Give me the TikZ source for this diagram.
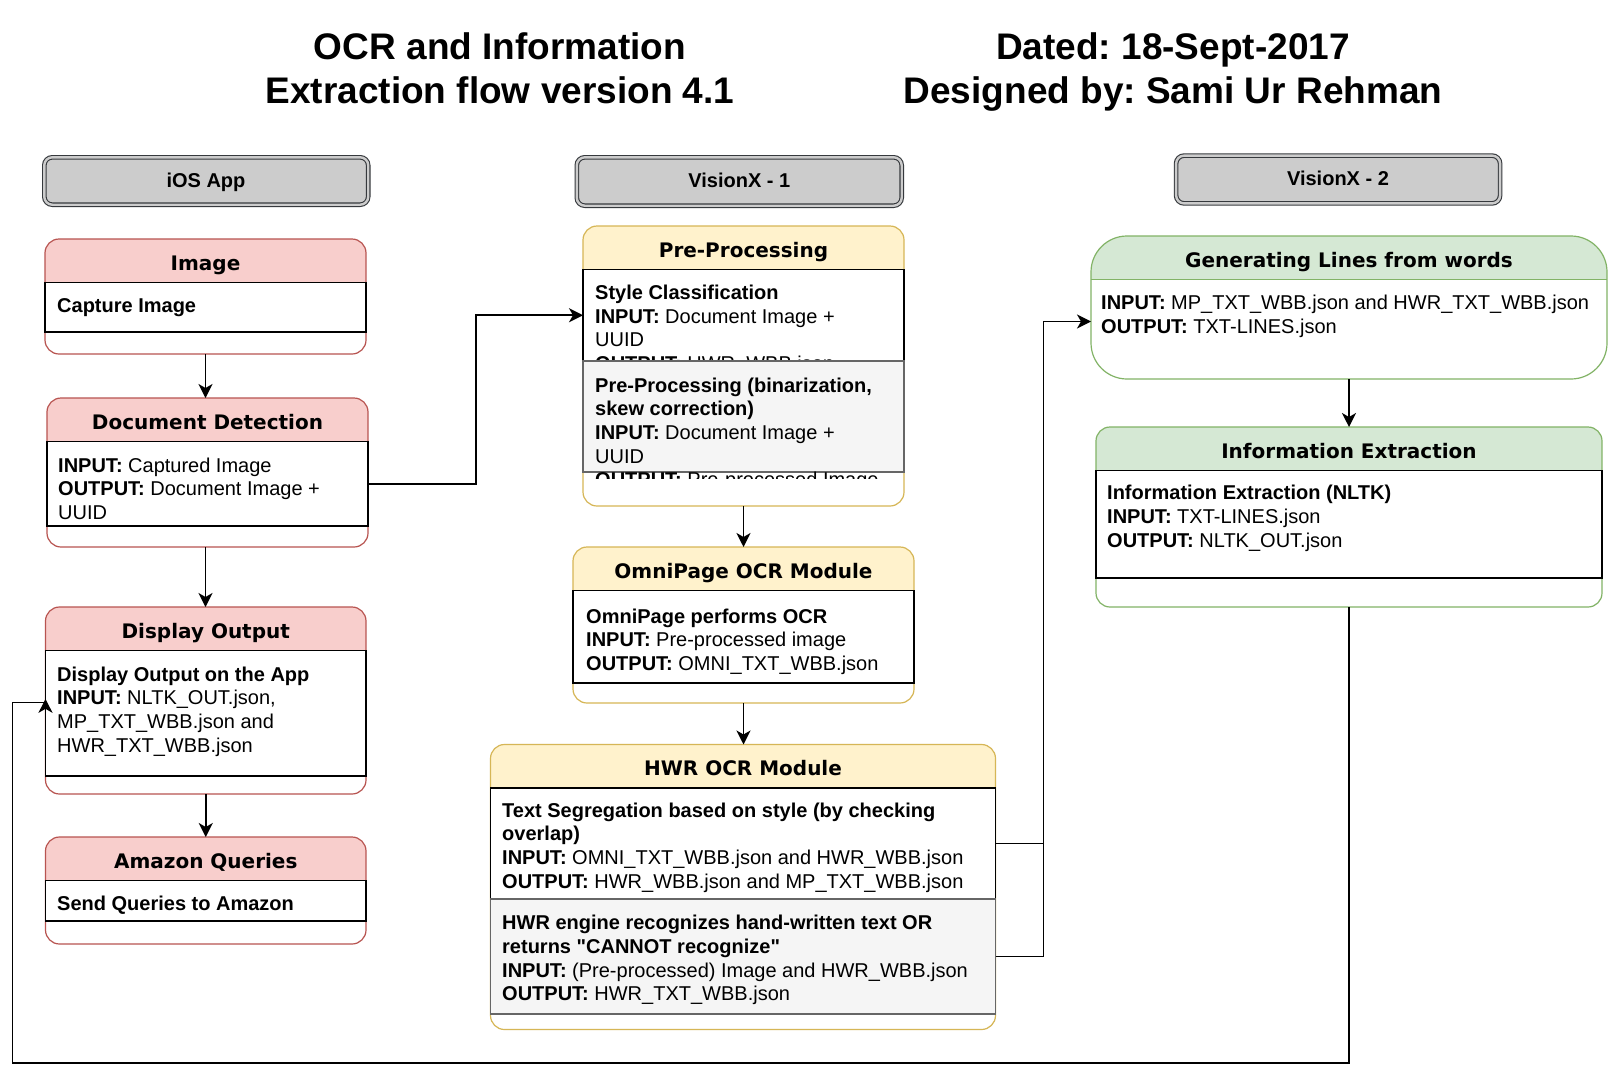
\documentclass[tikz,border=0pt]{standalone}
\usepackage{fontspec}
\setmainfont{Liberation Sans}[Ligatures=TeXOff]
\newfontfamily\hdrfont{DejaVu Sans}
\usetikzlibrary{arrows.meta,fit,calc}
\frenchspacing
\definecolor{redS}{HTML}{B85450}
\definecolor{redF}{HTML}{F8CECC}
\definecolor{yelS}{HTML}{D6B656}
\definecolor{yelF}{HTML}{FFF2CC}
\definecolor{grnS}{HTML}{82B366}
\definecolor{grnF}{HTML}{D5E8D4}
\definecolor{grayS}{HTML}{666666}
\definecolor{grayF}{HTML}{F5F5F5}
\definecolor{hdrS}{HTML}{36393D}
\definecolor{hdrF}{HTML}{CCCCCC}
\newcommand\topstrut{\rule{0pt}{16pt}}
\tikzset{
  lane/.style 2 args={draw=#1, line width=1.2pt, fill=white, rounded corners=14pt,
    inner sep=0pt, outer sep=0pt,
    path picture={\fill[#2, sharp corners] (path picture bounding box.north west) rectangle ([yshift=-43.5pt]path picture bounding box.north east);}},
  redlane/.style={lane={redS}{redF}},
  yellane/.style={lane={yelS}{yelF}},
  grnlane/.style={lane={grnS}{grnF}},
  childw/.style={draw=black, line width=1.3pt, fill=white, inner sep=0pt, outer sep=0pt, sharp corners},
  childg/.style={draw=grayS, line width=1.3pt, fill=grayF, inner sep=0pt, outer sep=0pt, sharp corners},
  colhdr/.style={draw=hdrS, double=hdrF, double distance=2.4pt, line width=1.1pt, fill=hdrF, rounded corners=8pt, inner sep=0pt},
  hdrtxt/.style={anchor=base, inner sep=0pt, font=\hdrfont\bfseries\fontsize{20}{24}\selectfont},
  coltxt/.style={anchor=base, inner sep=0pt, font=\bfseries\fontsize{20}{24}\selectfont},
  bodytxt/.style={anchor=north west, align=left, inner sep=0pt, font=\fontsize{20}{23.6}\selectfont},
  titletxt/.style={anchor=north, align=center, inner sep=0pt, font=\bfseries\fontsize{37}{43.5}\selectfont},
  arr/.style={line width=1.6pt, -{Stealth[length=14pt, width=14pt, inset=4pt]}},
  wire/.style={line width=1.6pt},
}
\begin{document}
\begin{tikzpicture}[x=1pt,y=-1pt]
\useasboundingbox (0,0) rectangle (1609,1079);
\fill[white] (0,0) rectangle (1609,1079);

% titles
\node[titletxt] (title1) at (500,29.5) {\rule{0pt}{30pt}OCR and Information\\Extraction flow version 4.1};
\node[titletxt] (title2) at (1173,29.5) {\rule{0pt}{30pt}Dated: 18-Sept-2017\\Designed by: Sami Ur Rehman};

% column headers
\node[colhdr, fit={(44.3,157.3) (368.2,204.7)}] (ios) {};
\node[coltxt] (iostxt) at (206,187) {iOS App};
\node[colhdr, fit={(576.8,157.3) (901.7,205.7)}] (vx1) {};
\node[coltxt] (vx1txt) at (739.3,187.5) {VisionX - 1};
\node[colhdr, fit={(1176.1,155.6) (1500.1,203.4)}] (vx2) {};
\node[coltxt] (vx2txt) at (1338,185.5) {VisionX - 2};

% ---- iOS column
\node[redlane, fit={(45,239) (366,354)}] (img) {};
\node[childw, fit={(45,282.5) (366,332)}] (imgc) {};
\node[hdrtxt] (imgh) at (205.5,270) {Image};
\node[bodytxt] (imgt) at (57,296.7) {\topstrut\textbf{Capture Image}};

\node[redlane, fit={(47,398) (368,547)}] (dd) {};
\node[childw, fit={(47,441.5) (368,526)}] (ddc) {};
\node[hdrtxt] (ddh) at (207.5,429.5) {Document Detection};
\node[bodytxt] (ddt) at (58,456) {\topstrut\textbf{INPUT:} Captured Image\\\textbf{OUTPUT:} Document Image +\\UUID};

\node[redlane, fit={(45.5,607) (366,794)}] (disp) {};
\node[childw, fit={(45.5,650.5) (366,776)}] (dispc) {};
\node[hdrtxt] (disph) at (205.75,638) {Display Output};
\node[bodytxt] (dispt) at (57,665) {\topstrut\textbf{Display Output on the App}\\\textbf{INPUT:} NLTK\_OUT.json,\\MP\_TXT\_WBB.json and\\HWR\_TXT\_WBB.json};

\node[redlane, fit={(45.5,837) (366,944)}] (amz) {};
\node[childw, fit={(45.5,880.5) (366,921)}] (amzc) {};
\node[hdrtxt] (amzh) at (205.75,868) {Amazon Queries};
\node[bodytxt] (amzt) at (57,894.3) {\topstrut\textbf{Send Queries to Amazon}};

% ---- VisionX-1 column
\node[yellane, fit={(583,226) (904,506)}] (pre) {};
\node[childw, fit={(583,269.5) (904,361)}] (prec1) {};
\node[hdrtxt] (preh) at (743.5,257) {Pre-Processing};
\node[bodytxt] (pret1) at (595,283.3) {\topstrut\textbf{Style Classification}\\\textbf{INPUT:} Document Image +\\UUID\\\textbf{OUTPUT:} HWR\_WBB.json};
\node[childg, fit={(583,361) (904,472)}] (prec2) {};
\begin{scope}
\clip (583,300) rectangle (904,478);
\node[bodytxt] (pret2) at (595,376) {\topstrut\textbf{Pre-Processing (binarization,}\\\textbf{skew correction)}\\\textbf{INPUT:} Document Image +\\UUID\\\textbf{OUTPUT:} Pre-processed Image};
\end{scope}

\node[yellane, fit={(573,547) (914,703)}] (omni) {};
\node[childw, fit={(573,590.5) (914,683)}] (omnic) {};
\node[hdrtxt] (omnih) at (743.5,578) {OmniPage OCR Module};
\node[bodytxt] (omnit) at (586,607) {\topstrut\textbf{OmniPage performs OCR}\\\textbf{INPUT:} Pre-processed image\\\textbf{OUTPUT:} OMNI\_TXT\_WBB.json};

\node[yellane, fit={(490.5,744.5) (995.5,1029.5)}] (hwr) {};
\node[childw, fit={(490.5,788) (995.5,899)}] (hwrc1) {};
\node[childg, fit={(490.5,899) (995.5,1014)}] (hwrc2) {};
\node[hdrtxt] (hwrh) at (743,775.5) {HWR OCR Module};
\node[bodytxt] (hwrt1) at (502,801) {\topstrut\textbf{Text Segregation based on style (by checking}\\\textbf{overlap)}\\\textbf{INPUT:} OMNI\_TXT\_WBB.json and HWR\_WBB.json\\\textbf{OUTPUT:} HWR\_WBB.json and MP\_TXT\_WBB.json};
\node[bodytxt] (hwrt2) at (502,913.7) {\topstrut\textbf{HWR engine recognizes hand-written text OR}\\\textbf{returns "CANNOT recognize"}\\\textbf{INPUT:} (Pre-processed) Image and HWR\_WBB.json\\\textbf{OUTPUT:} HWR\_TXT\_WBB.json};

% ---- VisionX-2 column
\node[grnlane, rounded corners=36pt, fit={(1091,236) (1607,379)}] (gen) {};
\draw[grnS, line width=1.2pt] ([yshift=-43.5pt]gen.north west) -- ([yshift=-43.5pt]gen.north east);
\node[hdrtxt] (genh) at (1349,267) {Generating Lines from words};
\node[bodytxt] (gent) at (1101,293.3) {\topstrut\textbf{INPUT:} MP\_TXT\_WBB.json and HWR\_TXT\_WBB.json\\\textbf{OUTPUT:} TXT-LINES.json};

\node[grnlane, fit={(1096,427) (1602,607)}] (info) {};
\node[childw, fit={(1096,470.5) (1602,578)}] (infoc) {};
\node[hdrtxt] (infoh) at (1349,458) {Information Extraction};
\node[bodytxt] (infot) at (1107,483.7) {\topstrut\textbf{Information Extraction (NLTK)}\\\textbf{INPUT:} TXT-LINES.json\\\textbf{OUTPUT:} NLTK\_OUT.json};

% ---- connectors
\coordinate (k1) at (475.7,0);
\coordinate (k2) at (1043.5,0);
\coordinate (k3) at (12.3,1063);
\coordinate (genin) at ([yshift=-14pt]gen.west);
\coordinate (dispin) at ([yshift=-1.8pt]disp.west);

\draw[arr] (img.south) -- (img.south |- dd.north);
\draw[arr] (dd.south -| img.south) -- (img.south |- disp.north);
\draw[arr] (disp.south) -- (disp.south |- amz.north);
\draw[arr] (ddc.east) -- (ddc.east -| k1) |- (prec1.west);
\draw[arr] (pre.south) -- (pre.south |- omni.north);
\draw[arr] (omni.south) -- (omni.south |- hwr.north);
\draw[wire] (hwrc1.east) -- (hwrc1.east -| k2);
\draw[arr] (hwrc2.east) -| (k2 |- genin) -- (genin);
\draw[arr] (gen.south) -- (gen.south |- info.north);
\draw[arr] (info.south) |- (k3) |- (dispin) -- ++(0,-3.5);
\end{tikzpicture}
\end{document}
